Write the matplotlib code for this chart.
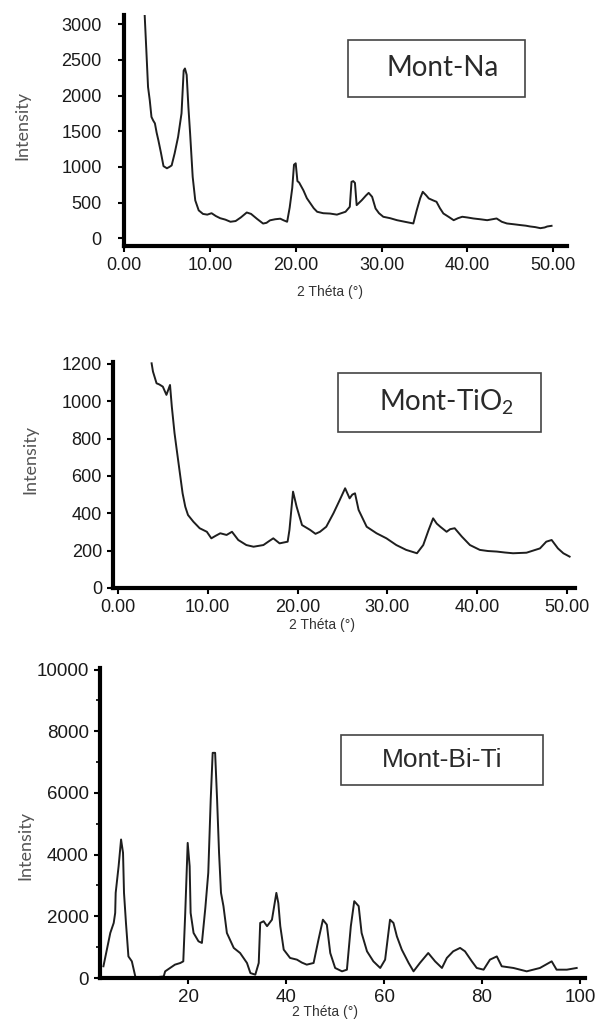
import matplotlib.pyplot as plt
from matplotlib.patches import Rectangle
from matplotlib.ticker import FormatStrFormatter, MultipleLocator

plt.rcParams['mathtext.fontset'] = 'custom'
plt.rcParams['mathtext.rm'] = 'Lato'

# Mont-Na pattern
na_theta = [2.4, 2.6, 2.8, 3.0, 3.2, 3.4, 3.6, 3.8, 4.0, 4.3, 4.6, 5.0, 5.3, 5.55, 5.9, 6.3, 6.7,
            6.95, 7.1, 7.3, 7.5, 7.7, 8.0, 8.3, 8.7, 9.2, 9.7, 10.2, 10.7, 11.2, 11.8, 12.4, 13.0,
            13.6, 14.3, 14.8, 15.5, 16.2, 16.6, 17.0, 17.6, 18.2, 18.6, 19.0, 19.3, 19.6, 19.8,
            20.0, 20.2, 20.4, 20.9, 21.3, 21.7, 22.1, 22.5, 23.2, 24.0, 24.8, 25.8, 26.3, 26.5,
            26.7, 26.9, 27.1, 27.7, 28.2, 28.5, 28.9, 29.3, 29.7, 30.2, 31.0, 31.8, 32.7, 33.7,
            34.1, 34.5, 34.8, 35.2, 35.5, 36.0, 36.4, 36.8, 37.2, 37.8, 38.4, 38.9, 39.4, 40.0,
            40.7, 41.5, 42.3, 42.9, 43.4, 44.0, 44.6, 45.4, 46.2, 46.8, 47.3, 47.9, 48.5, 49.0,
            49.3, 49.8]
na_int = [3150, 2640, 2120, 1935, 1700, 1650, 1610, 1480, 1375, 1200, 1010, 980, 1000, 1020, 1190,
          1420, 1750, 2350, 2380, 2290, 1840, 1470, 860, 530, 390, 340, 330, 350, 310, 280, 260,
          230, 240, 290, 360, 340, 270, 205, 215, 250, 265, 273, 250, 230, 430, 705, 1030, 1050,
          800, 780, 670, 560, 490, 420, 370, 350, 345, 330, 370, 440, 790, 800, 775, 463, 533,
          600, 635, 580, 416, 350, 300, 280, 252, 230, 206, 393, 560, 650, 600, 557, 530, 510,
          420, 346, 300, 252, 280, 300, 290, 276, 265, 252, 265, 276, 230, 206, 195, 183, 175,
          164, 155, 140, 150, 164, 173]

# Mont-TiO2 pattern
ti_theta = [3.75, 3.9, 4.3, 4.6, 5.0, 5.4, 5.8, 6.0, 6.3, 6.5, 6.9, 7.2, 7.5, 7.8, 8.4, 9.1, 9.9,
            10.4, 10.9, 11.4, 12.1, 12.7, 13.4, 14.3, 15.1, 16.2, 16.8, 17.3, 18.0, 18.9, 19.1,
            19.5, 19.9, 20.5, 21.4, 22.0, 22.5, 23.2, 24.0, 24.7, 25.3, 25.8, 26.1, 26.4, 26.8,
            27.7, 28.8, 29.9, 31.0, 32.1, 33.3, 34.0, 34.6, 35.1, 35.5, 35.9, 36.6, 37.0, 37.5,
            38.3, 39.2, 40.3, 41.2, 42.2, 43.1, 44.0, 45.5, 47.0, 47.7, 48.3, 49.0, 49.6, 50.3]
ti_int = [1203, 1159, 1096, 1090, 1078, 1034, 1087, 971, 830, 757, 614, 507, 435, 391, 355, 320,
          301, 266, 280, 293, 284, 301, 257, 230, 221, 230, 250, 266, 239, 248, 311, 516, 435,
          337, 311, 290, 301, 328, 400, 471, 534, 480, 500, 507, 418, 328, 293, 266, 230, 204,
          186, 230, 311, 373, 345, 328, 301, 315, 320, 275, 230, 204, 198, 195, 190, 186, 189,
          212, 248, 257, 212, 186, 168]

# Mont-Bi-Ti pattern
bt_theta = [2.7, 3.4, 4.1, 4.8, 5.1, 5.2, 5.8, 6.3, 6.7, 6.9, 7.3, 7.8, 8.5, 9.2, 9.5, 12.0, 15.0,
            15.3, 16.3, 17.3, 18.4, 19.0, 19.4, 19.9, 20.3, 20.5, 21.1, 22.1, 22.8, 23.5, 24.1,
            24.6, 25.0, 25.5, 25.9, 26.3, 26.7, 27.2, 27.9, 29.3, 30.6, 32.0, 32.7, 33.7, 34.4,
            34.7, 35.4, 36.1, 37.1, 38.0, 38.4, 38.8, 39.5, 40.8, 42.2, 43.2, 44.2, 45.6, 46.6,
            47.5, 48.3, 49.0, 50.0, 51.4, 52.4, 53.2, 53.9, 54.8, 55.4, 56.5, 57.8, 59.2, 60.2,
            61.2, 61.9, 62.6, 63.6, 65.0, 66.0, 67.3, 69.0, 70.4, 71.8, 72.8, 74.1, 75.5, 76.5,
            77.9, 78.9, 80.3, 81.6, 83.0, 84.0, 86.4, 89.1, 91.8, 94.2, 95.2, 97.3, 99.3]
bt_int = [380, 920, 1460, 1785, 2110, 2760, 3625, 4490, 4060, 2760, 1785, 700, 540, 54, 0, 0, 50,
          216, 325, 433, 487, 540, 2110, 4380, 3625, 2110, 1460, 1190, 1136, 2270, 3410, 5790,
          7300, 7300, 5790, 4060, 2760, 2330, 1460, 975, 810, 487, 160, 108, 487, 1785, 1840,
          1680, 1890, 2760, 2430, 1680, 920, 650, 595, 500, 433, 487, 1245, 1890, 1730, 810, 325,
          216, 270, 1680, 2490, 2330, 1460, 865, 540, 325, 595, 1890, 1785, 1350, 920, 487, 216,
          487, 810, 540, 325, 650, 865, 975, 865, 540, 325, 270, 595, 700, 380, 325, 216, 325,
          540, 270, 270, 325]

fig = plt.figure(figsize=(5.97, 10.22), dpi=100)
W, H = 597, 1022


def px_axes(x0, y0, x1, y1):
    return fig.add_axes([x0 / W, 1 - y1 / H, (x1 - x0) / W, (y1 - y0) / H])


def style(ax, fs):
    for s in ['top', 'right']:
        ax.spines[s].set_visible(False)
    for s in ['left', 'bottom']:
        ax.spines[s].set_linewidth(3)
    ax.tick_params(direction='out', length=4, width=1.5, labelsize=fs,
                   labelcolor='#1a1a1a', pad=4)
    for lab in ax.get_xticklabels() + ax.get_yticklabels():
        lab.set_family('Liberation Sans')


def label_box(x0, y0, x1, y1, text, fs, family, tx=None):
    fig.patches.append(Rectangle((x0 / W, 1 - y1 / H), (x1 - x0) / W, (y1 - y0) / H,
                                 transform=fig.transFigure, fill=False,
                                 edgecolor='#444444', linewidth=1.2))
    cx = (x0 + x1) / 2 if tx is None else tx
    fig.text(cx / W, 1 - (y0 + y1) / 2 / H, text, ha='center', va='center',
             fontsize=fs, family=family, color='#2a2a2a')


def axis_titles(ix, iy, tx, ty):
    fig.text(ix / W, 1 - iy / H, 'Intensity', rotation=90, ha='center', va='center',
             fontsize=13, family='Lato', color='#555555')
    fig.text(tx / W, 1 - ty / H, '2 Théta (°)', ha='center', va='center',
             fontsize=10, family='Liberation Sans', color='#333333')


# Panel 1
ax1 = px_axes(124, 15, 567, 246)
ax1.plot(na_theta, na_int, color='#1e1e1e', lw=1.4)
ax1.set_xlim(0, 51.6)
ax1.set_ylim(-110, 3130)
ax1.set_yticks(range(0, 3001, 500))
ax1.set_xticks([0, 10, 20, 30, 40, 50])
ax1.xaxis.set_major_formatter(FormatStrFormatter('%.2f'))
style(ax1, 13)
ax1.tick_params(axis='y', pad=12)
axis_titles(22, 125, 330, 292)
label_box(348, 40, 525, 97, 'Mont-Na', 20, 'Lato', tx=443)

# Panel 2
ax2 = px_axes(113, 362, 575, 588)
ax2.plot(ti_theta, ti_int, color='#1e1e1e', lw=1.4)
ax2.set_xlim(-0.55, 50.9)
ax2.set_ylim(0, 1210)
ax2.set_yticks(range(0, 1201, 200))
ax2.set_xticks([0, 10, 20, 30, 40, 50])
ax2.xaxis.set_major_formatter(FormatStrFormatter('%.2f'))
style(ax2, 13)
axis_titles(30, 460, 322, 625)
label_box(338, 373, 541, 432, 'Mont-TiO$_\\mathrm{2}$', 20, 'Lato', tx=446)

# Panel 3
ax3 = px_axes(100, 668, 585, 978)
ax3.plot(bt_theta, bt_int, color='#1e1e1e', lw=1.4)
ax3.set_xlim(2, 101)
ax3.set_ylim(0, 10050)
ax3.set_yticks(range(0, 10001, 2000))
ax3.yaxis.set_minor_locator(MultipleLocator(1000))
ax3.set_xticks([20, 40, 60, 80, 100])
style(ax3, 13.5)
ax3.tick_params(axis='y', which='minor', direction='out', length=3, width=1.2)
axis_titles(25, 845, 325, 1012)
label_box(341, 735, 543, 785, 'Mont-Bi-Ti', 19, 'Liberation Sans', tx=442)

fig.savefig('out.png', dpi=100)
